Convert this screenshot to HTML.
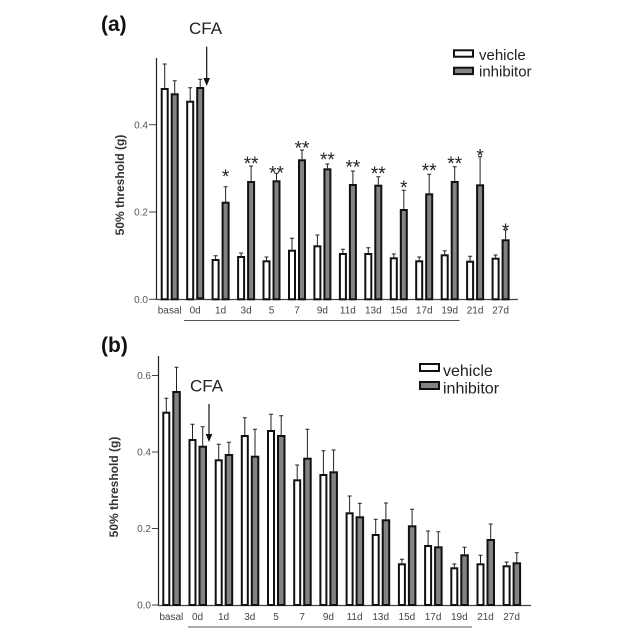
<!DOCTYPE html>
<html><head><meta charset="utf-8"><style>
html,body{margin:0;padding:0;background:#fff;}
svg{display:block;}
text{font-family:"Liberation Sans",Arial,sans-serif;}
</style></head><body>
<svg width="640" height="640" viewBox="0 0 640 640" xmlns="http://www.w3.org/2000/svg">
<rect width="640" height="640" fill="#fff"/>

<!-- ========== PANEL A ========== -->
<text x="101" y="31" font-size="21" font-weight="bold" fill="#111">(a)</text>
<text x="189" y="34" font-size="17" fill="#222">CFA</text>
<line x1="206.7" y1="46.7" x2="206.7" y2="80" stroke="#111" stroke-width="1.2"/>
<polygon points="203.4,78 210,78 206.7,86" fill="#111"/>

<!-- legend a -->
<rect x="454" y="50.3" width="19" height="6.4" fill="#fff" stroke="#111" stroke-width="2"/>
<rect x="454" y="67.7" width="19" height="6.4" fill="#838383" stroke="#111" stroke-width="2"/>
<text x="479" y="60" font-size="15" fill="#222">vehicle</text>
<text x="479" y="76.7" font-size="15" fill="#222">inhibitor</text>

<!-- axes a -->
<line x1="156.5" y1="58" x2="156.5" y2="300" stroke="#222" stroke-width="1.2"/>
<line x1="156" y1="299.5" x2="518" y2="299.5" stroke="#444" stroke-width="1.2"/>
<g stroke="#444" stroke-width="1">
<line x1="149" y1="299.3" x2="156" y2="299.3"/>
<line x1="149" y1="212" x2="156" y2="212"/>
<line x1="149" y1="124.7" x2="156" y2="124.7"/>
</g>
<g font-size="10" fill="#555" text-anchor="end">
<text x="148" y="303">0.0</text>
<text x="148" y="215.7">0.2</text>
<text x="148" y="128.4">0.4</text>
</g>
<text transform="translate(124,185) rotate(-90)" text-anchor="middle" font-size="12" font-weight="bold" fill="#333">50% threshold (g)</text>

<!-- bars a -->
<g stroke="#111" stroke-width="2">
<rect x="161.7" y="89" width="6" height="210.3" fill="#fff"/>
<rect x="171.7" y="94.3" width="6" height="205" fill="#838383"/>
<rect x="187.2" y="101.7" width="6" height="197.6" fill="#fff"/>
<rect x="197.2" y="88" width="6" height="210.3" fill="#838383"/>
<rect x="212.6" y="260" width="6" height="39.3" fill="#fff"/>
<rect x="222.6" y="202.7" width="6" height="96.6" fill="#838383"/>
<rect x="238.1" y="257" width="6" height="42.3" fill="#fff"/>
<rect x="248.1" y="182" width="6" height="117.3" fill="#838383"/>
<rect x="263.5" y="261.3" width="6" height="38" fill="#fff"/>
<rect x="273.5" y="181.3" width="6" height="118" fill="#838383"/>
<rect x="289" y="250.7" width="6" height="48.6" fill="#fff"/>
<rect x="299" y="160.3" width="6" height="139" fill="#838383"/>
<rect x="314.4" y="246.3" width="6" height="53" fill="#fff"/>
<rect x="324.4" y="169.3" width="6" height="130" fill="#838383"/>
<rect x="339.9" y="254" width="6" height="45.3" fill="#fff"/>
<rect x="349.9" y="185" width="6" height="114.3" fill="#838383"/>
<rect x="365.3" y="254" width="6" height="45.3" fill="#fff"/>
<rect x="375.3" y="185.7" width="6" height="113.6" fill="#838383"/>
<rect x="390.8" y="258.3" width="6" height="41" fill="#fff"/>
<rect x="400.8" y="210" width="6" height="89.3" fill="#838383"/>
<rect x="416.2" y="261.3" width="6" height="38" fill="#fff"/>
<rect x="426.2" y="194.3" width="6" height="105" fill="#838383"/>
<rect x="441.7" y="255.3" width="6" height="44" fill="#fff"/>
<rect x="451.7" y="182" width="6" height="117.3" fill="#838383"/>
<rect x="467.1" y="261.7" width="6" height="37.6" fill="#fff"/>
<rect x="477.1" y="185.3" width="6" height="114" fill="#838383"/>
<rect x="492.6" y="258.7" width="6" height="40.6" fill="#fff"/>
<rect x="502.6" y="240.3" width="6" height="59" fill="#838383"/>
</g>
<!-- error bars a -->
<g stroke="#222" stroke-width="1" fill="none">
<path d="M164.7 64V88M162.7 64H166.7"/>
<path d="M174.7 80.7V93.3M172.7 80.7H176.7"/>
<path d="M190.2 87.7V100.7M188.2 87.7H192.2"/>
<path d="M200.2 79.3V87M198.2 79.3H202.2"/>
<path d="M215.6 255.7V259M213.6 255.7H217.6"/>
<path d="M225.6 186.7V201.7M223.6 186.7H227.6"/>
<path d="M241.1 253V256M239.1 253H243.1"/>
<path d="M251.1 166V181M249.1 166H253.1"/>
<path d="M266.5 257V260.3M264.5 257H268.5"/>
<path d="M276.5 173.3V180.3M274.5 173.3H278.5"/>
<path d="M292 238.3V249.7M290 238.3H294"/>
<path d="M302 150V159.3M300 150H304"/>
<path d="M317.4 235V245.3M315.4 235H319.4"/>
<path d="M327.4 164V168.3M325.4 164H329.4"/>
<path d="M342.9 249.3V253M340.9 249.3H344.9"/>
<path d="M352.9 171V184M350.9 171H354.9"/>
<path d="M368.3 247.7V253M366.3 247.7H370.3"/>
<path d="M378.3 176.7V184.7M376.3 176.7H380.3"/>
<path d="M393.8 254V257.3M391.8 254H395.8"/>
<path d="M403.8 190.3V209M401.8 190.3H405.8"/>
<path d="M419.2 257V260.3M417.2 257H421.2"/>
<path d="M429.2 174.3V193.3M427.2 174.3H431.2"/>
<path d="M444.7 250.7V254.3M442.7 250.7H446.7"/>
<path d="M454.7 166.7V181M452.7 166.7H456.7"/>
<path d="M470.1 256.3V260.7M468.1 256.3H472.1"/>
<path d="M480.1 156.7V184.3M478.1 156.7H482.1"/>
<path d="M495.6 255V257.7M493.6 255H497.6"/>
<path d="M505.6 230V239.3M503.6 230H507.6"/>
</g>
<!-- stars a -->
<g font-size="19" fill="#222" text-anchor="middle">
<text x="225.6" y="183">*</text>
<text x="251.1" y="170">**</text>
<text x="276.5" y="179.5">**</text>
<text x="302" y="154.5">**</text>
<text x="327.4" y="166">**</text>
<text x="352.9" y="173.7">**</text>
<text x="378.3" y="180">**</text>
<text x="403.8" y="194">*</text>
<text x="429.2" y="177">**</text>
<text x="454.7" y="170">**</text>
<text x="480.1" y="162.7">*</text>
<text x="505.6" y="237">*</text>
</g>
<!-- x labels a -->
<g font-size="10" fill="#444" text-anchor="middle">
<text x="169.7" y="313.5">basal</text>
<text x="195.2" y="313.5">0d</text>
<text x="220.6" y="313.5">1d</text>
<text x="246.1" y="313.5">3d</text>
<text x="271.5" y="313.5">5</text>
<text x="297" y="313.5">7</text>
<text x="322.4" y="313.5">9d</text>
<text x="347.9" y="313.5">11d</text>
<text x="373.3" y="313.5">13d</text>
<text x="398.8" y="313.5">15d</text>
<text x="424.2" y="313.5">17d</text>
<text x="449.7" y="313.5">19d</text>
<text x="475.1" y="313.5">21d</text>
<text x="500.6" y="313.5">27d</text>
</g>
<line x1="184" y1="320.5" x2="459.5" y2="320.5" stroke="#555" stroke-width="1"/>

<!-- ========== PANEL B ========== -->
<text x="101" y="352" font-size="21" font-weight="bold" fill="#111">(b)</text>
<text x="190" y="391.7" font-size="17" fill="#222">CFA</text>
<line x1="209" y1="404" x2="209" y2="436" stroke="#111" stroke-width="1.2"/>
<polygon points="205.7,434 212.3,434 209,442" fill="#111"/>

<!-- legend b -->
<rect x="420" y="364" width="19" height="7" fill="#fff" stroke="#111" stroke-width="2"/>
<rect x="420" y="382" width="19" height="7" fill="#838383" stroke="#111" stroke-width="2"/>
<text x="443" y="376" font-size="16" fill="#222">vehicle</text>
<text x="443" y="393.5" font-size="16" fill="#222">inhibitor</text>

<!-- axes b -->
<line x1="158.5" y1="356" x2="158.5" y2="606" stroke="#222" stroke-width="1.2"/>
<line x1="158" y1="605.5" x2="531" y2="605.5" stroke="#444" stroke-width="1.2"/>
<g stroke="#444" stroke-width="1">
<line x1="152" y1="605" x2="158" y2="605"/>
<line x1="152" y1="528.5" x2="158" y2="528.5"/>
<line x1="152" y1="452" x2="158" y2="452"/>
<line x1="152" y1="375.5" x2="158" y2="375.5"/>
</g>
<g font-size="10" fill="#555" text-anchor="end">
<text x="151" y="608.7">0.0</text>
<text x="151" y="532.2">0.2</text>
<text x="151" y="455.7">0.4</text>
<text x="151" y="379.2">0.6</text>
</g>
<text transform="translate(118,487) rotate(-90)" text-anchor="middle" font-size="12" font-weight="bold" fill="#333">50% threshold (g)</text>

<!-- bars b -->
<g stroke="#111" stroke-width="2">
<rect x="163.3" y="412.7" width="6" height="192.3" fill="#fff"/>
<rect x="173.3" y="392" width="6.5" height="213" fill="#838383"/>
<rect x="189.5" y="440" width="6" height="165" fill="#fff"/>
<rect x="199.5" y="446.7" width="6.5" height="158.3" fill="#838383"/>
<rect x="215.7" y="460.3" width="6" height="144.7" fill="#fff"/>
<rect x="225.7" y="455" width="6.5" height="150" fill="#838383"/>
<rect x="241.8" y="436" width="6" height="169" fill="#fff"/>
<rect x="251.8" y="456.7" width="6.5" height="148.3" fill="#838383"/>
<rect x="268" y="431" width="6" height="174" fill="#fff"/>
<rect x="278" y="436" width="6.5" height="169" fill="#838383"/>
<rect x="294.2" y="480.3" width="6" height="124.7" fill="#fff"/>
<rect x="304.2" y="458.7" width="6.5" height="146.3" fill="#838383"/>
<rect x="320.4" y="475" width="6" height="130" fill="#fff"/>
<rect x="330.4" y="472.3" width="6.5" height="132.7" fill="#838383"/>
<rect x="346.6" y="513.3" width="6" height="91.7" fill="#fff"/>
<rect x="356.6" y="517.3" width="6.5" height="87.7" fill="#838383"/>
<rect x="372.7" y="535" width="6" height="70" fill="#fff"/>
<rect x="382.7" y="520.3" width="6.5" height="84.7" fill="#838383"/>
<rect x="398.9" y="564.3" width="6" height="40.7" fill="#fff"/>
<rect x="408.9" y="526.3" width="6.5" height="78.7" fill="#838383"/>
<rect x="425.1" y="546" width="6" height="59" fill="#fff"/>
<rect x="435.1" y="547.3" width="6.5" height="57.7" fill="#838383"/>
<rect x="451.3" y="568.3" width="6" height="36.7" fill="#fff"/>
<rect x="461.3" y="555.3" width="6.5" height="49.7" fill="#838383"/>
<rect x="477.5" y="564.3" width="6" height="40.7" fill="#fff"/>
<rect x="487.5" y="540" width="6.5" height="65" fill="#838383"/>
<rect x="503.6" y="566.3" width="6" height="38.7" fill="#fff"/>
<rect x="513.6" y="563.3" width="6.5" height="41.7" fill="#838383"/>
</g>
<!-- error bars b -->
<g stroke="#222" stroke-width="1" fill="none">
<path d="M166.3 398.3V411.7M164.3 398.3H168.3"/>
<path d="M176.5 367.3V391M174.5 367.3H178.5"/>
<path d="M192.5 424.3V439M190.5 424.3H194.5"/>
<path d="M202.7 426.7V445.7M200.7 426.7H204.7"/>
<path d="M218.7 444.3V459.3M216.7 444.3H220.7"/>
<path d="M228.9 442.3V454M226.9 442.3H230.9"/>
<path d="M244.8 417.7V435M242.8 417.7H246.8"/>
<path d="M255 429.3V455.7M253 429.3H257"/>
<path d="M271 414.3V430M269 414.3H273"/>
<path d="M281.2 415.7V435M279.2 415.7H283.2"/>
<path d="M297.2 465V479.3M295.2 465H299.2"/>
<path d="M307.4 429.3V457.7M305.4 429.3H309.4"/>
<path d="M323.4 450.7V474M321.4 450.7H325.4"/>
<path d="M333.6 450V471.3M331.6 450H335.6"/>
<path d="M349.6 496V512.3M347.6 496H351.6"/>
<path d="M359.8 503.3V516.3M357.8 503.3H361.8"/>
<path d="M375.7 519.3V534M373.7 519.3H377.7"/>
<path d="M385.9 503V519.3M383.9 503H387.9"/>
<path d="M401.9 559.3V563.3M399.9 559.3H403.9"/>
<path d="M412.1 509.3V525.3M410.1 509.3H414.1"/>
<path d="M428.1 531V545M426.1 531H430.1"/>
<path d="M438.3 531.7V546.3M436.3 531.7H440.3"/>
<path d="M454.3 564V567.3M452.3 564H456.3"/>
<path d="M464.5 547.3V554.3M462.5 547.3H466.5"/>
<path d="M480.5 555.3V563.3M478.5 555.3H482.5"/>
<path d="M490.7 524V539M488.7 524H492.7"/>
<path d="M506.6 562V565.3M504.6 562H508.6"/>
<path d="M516.8 552.7V562.3M514.8 552.7H518.8"/>
</g>
<!-- x labels b -->
<g font-size="10" fill="#444" text-anchor="middle">
<text x="171.3" y="620">basal</text>
<text x="197.5" y="620">0d</text>
<text x="223.7" y="620">1d</text>
<text x="249.8" y="620">3d</text>
<text x="276" y="620">5</text>
<text x="302.2" y="620">7</text>
<text x="328.4" y="620">9d</text>
<text x="354.6" y="620">11d</text>
<text x="380.7" y="620">13d</text>
<text x="406.9" y="620">15d</text>
<text x="433.1" y="620">17d</text>
<text x="459.3" y="620">19d</text>
<text x="485.5" y="620">21d</text>
<text x="511.6" y="620">27d</text>
</g>
<line x1="188" y1="627" x2="472" y2="627" stroke="#555" stroke-width="1"/>
</svg>
</body></html>
